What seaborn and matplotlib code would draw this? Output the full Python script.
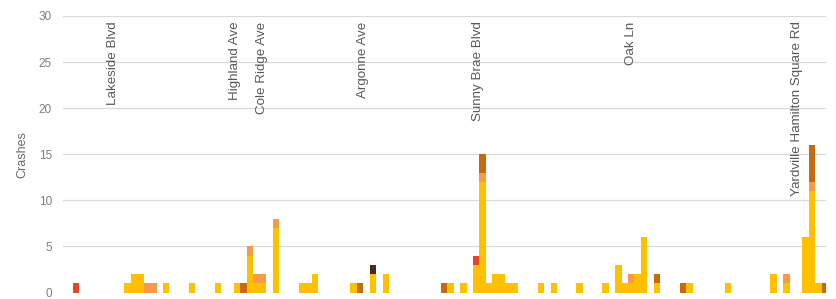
import numpy as np
import pandas as pd
import matplotlib
matplotlib.use("Agg")
import matplotlib.pyplot as plt
import seaborn as sns

# ---- data (segment index along the corridor, crash counts per severity) ----
yellow_pos = [8, 9, 10, 14, 18, 22, 25, 27, 28, 29, 31, 35, 36, 37, 43, 46, 48, 58, 60, 62,
              63, 64, 65, 66, 67, 68, 72, 74, 78, 82, 84, 85, 86, 87, 88, 90, 95, 101, 108,
              110, 113, 114, 115]
yellow_cnt = [1, 2, 2, 1, 1, 1, 1, 4, 1, 1, 7, 1, 1, 2, 1, 2, 2, 1, 1, 3,
              12, 1, 2, 2, 1, 1, 1, 1, 1, 1, 3, 1, 1, 2, 6, 1, 1, 1, 2,
              1, 6, 11, 1]
orange_pos = [11, 12, 27, 28, 29, 31, 63, 86, 110, 114]
orange_cnt = [1, 1, 1, 1, 1, 1, 1, 1, 1, 1]
red_pos = [0, 62]
red_cnt = [1, 1]
brown_pos = [26, 44, 57, 63, 90, 94, 114, 116]
brown_cnt = [1, 1, 1, 2, 1, 1, 4, 1]
dark_pos = [46]
dark_cnt = [1]

severity_levels = ["Property Damage Only", "Possible Injury", "Minor Injury",
                   "Serious Injury", "Fatal"]
severity_colors = ["#FFC000", "#F79A48", "#E5452A", "#C66A10", "#46291F"]

road_names = ["Lakeside Blvd", "Highland Ave", "Cole Ridge Ave", "Argonne Ave",
              "Sunny Brae Blvd", "Oak Ln", "Yardville Hamilton Square Rd"]
road_pos = [5.7, 24.6, 28.9, 44.4, 62.2, 85.9, 111.7]

series = [(yellow_pos, yellow_cnt), (orange_pos, orange_cnt), (red_pos, red_cnt),
          (brown_pos, brown_cnt), (dark_pos, dark_cnt)]
df = pd.concat([pd.DataFrame({"segment": p, "crashes": c, "severity": name})
                for (p, c), name in zip(series, severity_levels)], ignore_index=True)

# ---- plot ----
sns.set_theme(style="white")
plt.rcParams["font.family"] = ["Liberation Sans", "DejaVu Sans"]

fig = plt.figure(figsize=(8.37, 2.99), dpi=100)
ax = fig.add_axes([63 / 837, 6.5 / 299, 763 / 837, 276.5 / 299])

palette = dict(zip(severity_levels, severity_colors))
sns.histplot(data=df, x="segment", weights="crashes", hue="severity",
             hue_order=severity_levels[::-1], palette=palette,
             multiple="stack", discrete=True, shrink=1, element="bars",
             linewidth=0, edgecolor="none", alpha=1, legend=False, ax=ax)

ax.set_xlim(-1.98, 116.15)
ax.set_ylim(0, 30)
ax.set_yticks(range(0, 31, 5))
ax.set_xticks([])
ax.set_xlabel("")
ax.set_ylabel("Crashes", color="#6b6b6b", fontsize=9)
ax.yaxis.set_label_coords(-0.046, 0.5)
ax.tick_params(axis="y", length=0, pad=8, labelsize=8.5, labelcolor="#7f7f7f")
ax.grid(axis="y", color="#d9d9d9", linewidth=0.9)
ax.set_axisbelow(True)
for s in ax.spines.values():
    s.set_visible(False)

for name, x in zip(road_names, road_pos):
    ax.text(x, 29.4, name, rotation=90, ha="center", va="top",
            fontsize=9.6, color="#595959")

fig.savefig("out.png", dpi=100)
